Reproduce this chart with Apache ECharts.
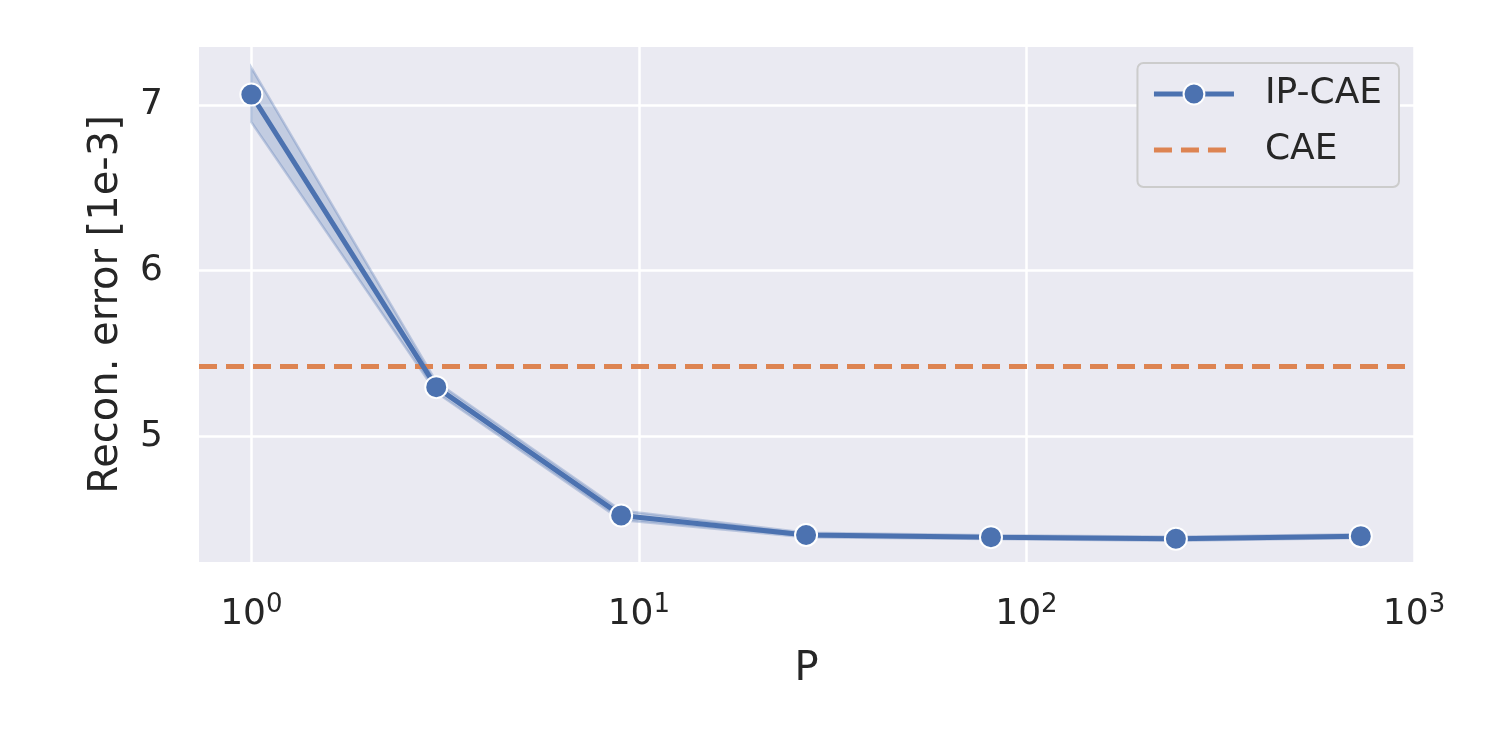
<!DOCTYPE html>
<html>
<head>
<meta charset="utf-8">
<script src="https://cdn.jsdelivr.net/npm/echarts@6/dist/echarts.min.js"></script>
<style>
  html, body { margin: 0; padding: 0; background: #fff; }
  #chart { width: 1495px; height: 747px; }
</style>
</head>
<body>
<div id="chart"></div>
<script>
// P values (powers of 3) and reconstruction error [1e-3]
const pValues = [1, 3, 9, 27, 81, 243, 729];
const ipCae = [7.062, 5.297, 4.523, 4.405, 4.392, 4.382, 4.398];
const ipCaeLow = [6.896, 5.265, 4.495, 4.392, 4.381, 4.370, 4.386];
const ipCaeHigh = [7.224, 5.330, 4.552, 4.419, 4.403, 4.394, 4.410];
const caeValue = 5.422;
const xTickExps = [0, 1, 2, 3];
const yTicks = [5, 6, 7];

const X_MIN = -0.135;
const X_MAX = 3.0;
const BLUE = '#4c72b0';
const ORANGE = '#dd8452';
const FONT = 'DejaVu Sans';

const chart = echarts.init(document.getElementById('chart'));

const lg = v => Math.log10(v);
const lineData = pValues.map((p, i) => [lg(p), ipCae[i]]);
const bandData = pValues.map((p, i) => [lg(p), ipCaeLow[i], ipCaeHigh[i]]);

const option = {
  backgroundColor: '#fff',
  animation: false,
  grid: {
    left: 199,
    right: 81,
    top: 47,
    bottom: 185,
    show: true,
    backgroundColor: '#eaeaf2',
    borderWidth: 0,
  },
  legend: {
    right: 96,
    top: 63,
    orient: 'vertical',
    backgroundColor: '#eaeaf2',
    borderColor: '#cccccc',
    borderWidth: 2,
    borderRadius: 6,
    padding: [13, 17, 19, 14],
    itemWidth: 80,
    itemHeight: 26,
    itemGap: 20,
    textStyle: { fontFamily: FONT, fontSize: 36, color: '#262626', lineHeight: 36, padding: [0, 0, 0, 26] },
    data: [
      { name: 'IP-CAE', lineStyle: { width: 5 } },
      { name: 'CAE', itemStyle: { opacity: 0 }, lineStyle: { width: 5, type: [18, 9] } },
    ],
  },
  xAxis: {
    type: 'value',
    min: X_MIN,
    max: X_MAX,
    name: 'P',
    nameLocation: 'middle',
    nameGap: 88,
    nameTextStyle: { fontFamily: FONT, fontSize: 40, color: '#262626' },
    axisLine: { show: false },
    axisTick: { show: false, customValues: xTickExps },
    splitLine: { show: true, lineStyle: { color: '#ffffff', width: 2.5 } },
    axisLabel: {
      customValues: xTickExps,
      margin: 30,
      showMaxLabel: true,
      formatter: v => '{b|10}{s|' + Math.round(v) + '}',
      rich: {
        b: { fontFamily: FONT, fontSize: 36, color: '#262626' },
        s: { fontFamily: FONT, fontSize: 26, color: '#262626', padding: [0, 0, 20, 0] },
      },
    },
  },
  yAxis: {
    type: 'value',
    min: 4.242,
    max: 7.349,
    name: 'Recon. error [1e-3]',
    nameLocation: 'middle',
    nameGap: 72,
    nameTextStyle: { fontFamily: FONT, fontSize: 40, color: '#262626' },
    axisLine: { show: false },
    axisTick: { show: false, customValues: yTicks },
    splitLine: { show: true, lineStyle: { color: '#ffffff', width: 2.5 } },
    axisLabel: {
      customValues: yTicks,
      margin: 36,
      fontFamily: FONT,
      fontSize: 36,
      color: '#262626',
    },
  },
  series: [
    {
      name: 'band',
      type: 'custom',
      z: 2,
      silent: true,
      data: bandData,
      renderItem: (params, api) => {
        if (params.dataIndex !== 0) return null;
        const upper = bandData.map(d => api.coord([d[0], d[2]]));
        const lower = bandData.map(d => api.coord([d[0], d[1]])).reverse();
        return {
          type: 'polygon',
          shape: { points: upper.concat(lower) },
          style: {
            fill: 'rgba(76,114,176,0.25)',
            stroke: 'rgba(76,114,176,0.3)',
            lineWidth: 2.5,
          },
        };
      },
    },
    {
      name: 'CAE',
      type: 'line',
      z: 3,
      data: [[X_MIN, caeValue], [X_MAX, caeValue]],
      symbol: 'none',
      color: ORANGE,
      lineStyle: { color: ORANGE, width: 5, type: [18, 9] },
    },
    {
      name: 'IP-CAE',
      type: 'line',
      z: 4,
      data: lineData,
      color: BLUE,
      symbol: 'circle',
      symbolSize: 22,
      lineStyle: { color: BLUE, width: 5 },
      itemStyle: { color: BLUE, borderColor: '#ffffff', borderWidth: 2 },
    },
  ],
};

chart.setOption(option);
</script>
</body>
</html>
